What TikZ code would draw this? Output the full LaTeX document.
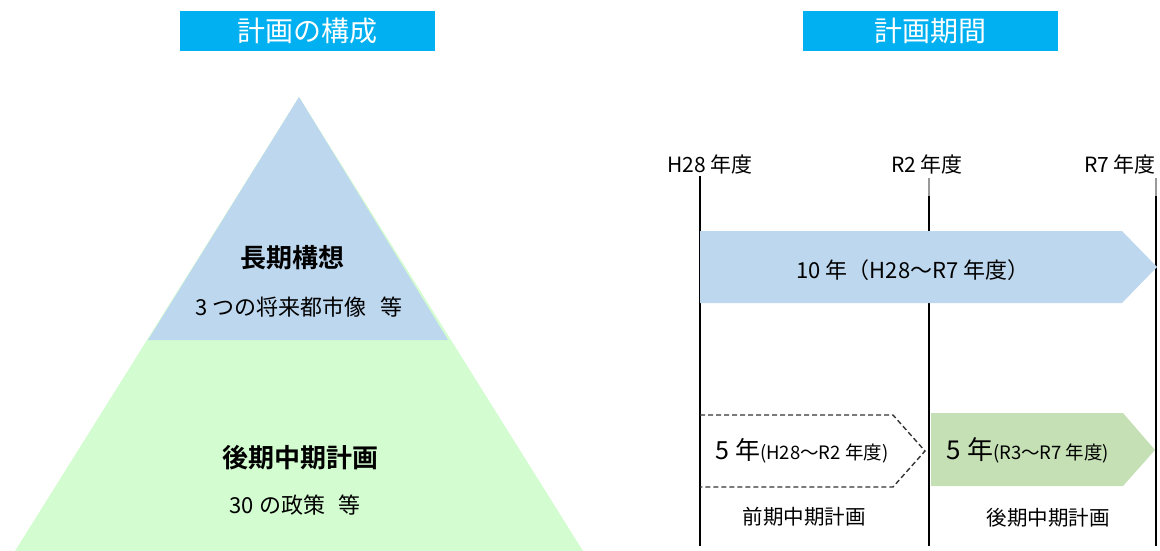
\documentclass[tikz,border=0pt]{standalone}
\usepackage{fontspec}
\setmainfont{Noto Sans CJK JP}[BoldFont = {Noto Sans CJK JP Bold}]
\definecolor{titlecyan}{HTML}{00B0F0}
\definecolor{longblue}{HTML}{BDD7EE}
\definecolor{midgreen}{HTML}{D3FCD0}
\definecolor{latergreen}{HTML}{C5E0B4}
\newcommand{\fsz}[1]{\fontsize{#1}{#1}\selectfont}

\begin{document}
\begin{tikzpicture}[x = 1pt, y = -1pt,
        titlebox/.style = {fill = titlecyan, text = white, minimum width = 255pt,
            minimum height = 40pt, inner sep = 0pt, font = \fsz{28}},
        tierhead/.style = {inner sep = 0pt, font = \fsz{26}\bfseries},
        tiernote/.style = {inner sep = 0pt, font = \fsz{22}},
        yearlabel/.style = {inner sep = 0pt, font = \fsz{21}},
        spanlabel/.style = {inner sep = 0pt, font = \fsz{18.5}},
        tickline/.style = {line width = 2pt}]
    \useasboundingbox (0,0) rectangle (1160,551);

    % Draw the titles:
    \node [titlebox] (StructTitle) at (307.5,31) {計画の構成};
    \node [titlebox] (PeriodTitle) at (930.5,31) {計画期間};

    % Draw the pyramid:
    \fill [midgreen] (299,97) -- (583,551) -- (15,551) -- cycle;
    \fill [longblue] (299,97) -- (448,340) -- (148,340) -- cycle;
    \node [tierhead] (LongName) at (292,258) {長期構想};
    \node [tiernote] (LongNote) at (299,307) {3 つの将来都市像\hspace{0.6em}等};
    \node [tierhead] (MidName)  at (300,458) {後期中期計画};
    \node [tiernote] (MidNote)  at (295,505) {30 の政策\hspace{0.6em}等};

    % Draw the time axis:
    \coordinate (H28Top) at (700,176);
    \coordinate (H28Bot) at (700,546);
    \coordinate (R2Grey) at (929,178);
    \coordinate (R2Top)  at (929,196);
    \coordinate (R2Bot)  at (929,546);
    \coordinate (R7Grey) at (1156,178);
    \coordinate (R7Top)  at (1156,196);
    \coordinate (R7Bot)  at (1156,546);
    \draw [tickline] (H28Top) -- (H28Bot);
    \draw [tickline, black!40] (R2Grey) -- (R2Top);
    \draw [tickline] (R2Top) -- (R2Bot);
    \draw [tickline, black!40] (R7Grey) -- (R7Top);
    \draw [tickline] (R7Top) -- (R7Bot);
    \node [yearlabel] (H28Label) at (710,164)  {H28 年度};
    \node [yearlabel] (R2Label)  at (927,164)  {R2 年度};
    \node [yearlabel] (R7Label)  at (1120,164) {R7 年度};

    % Draw the plan periods:
    \fill [longblue] (700,231) -- (1122,231) -- (1157,267) -- (1122,303) -- (700,303) -- cycle;
    \node [inner sep = 0pt, font = \fsz{22}] (TenYears) at (913,270) {10 年（H28～R7 年度）};
    \draw [line width = 1.4pt, black!80, dash pattern = on 5pt off 3pt]
        (700,415) -- (893,415) -- (925,451) -- (893,487) -- (700,487);
    \fill [latergreen] (931,413) -- (1123,413) -- (1155,450) -- (1123,486) -- (931,486) -- cycle;
    \node [spanlabel] (FirstSpan)  at (802,451)  {{\fsz{25}5 年}(H28～R2 年度)};
    \node [spanlabel] (SecondSpan) at (1028,450) {{\fsz{26}5 年}(R3～R7 年度)};
    \node [yearlabel, font = \fsz{20.5}] (FirstName)  at (804,517)  {前期中期計画};
    \node [yearlabel, font = \fsz{20.5}] (SecondName) at (1048,518) {後期中期計画};
\end{tikzpicture}
\end{document}
